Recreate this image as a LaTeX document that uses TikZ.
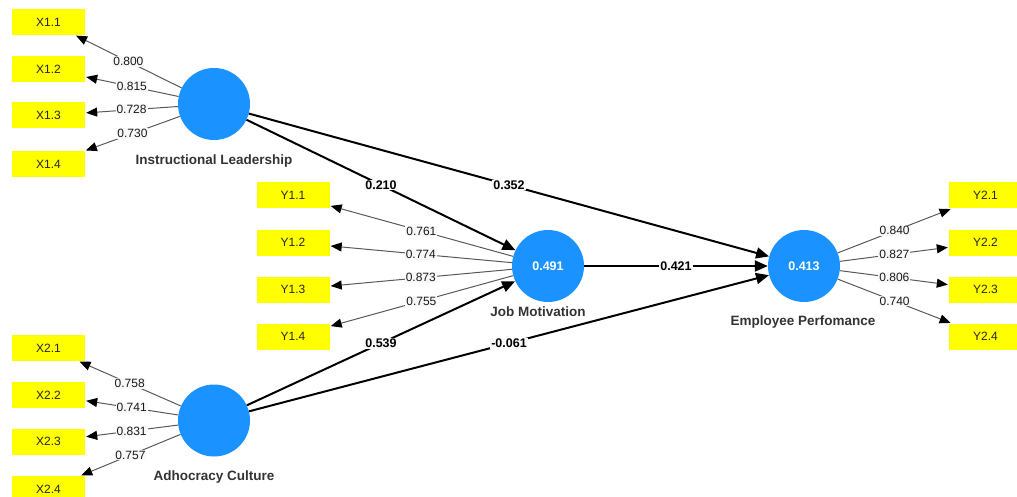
\documentclass[tikz,border=0pt]{standalone}
\usepackage{fontspec}
\setmainfont{Liberation Sans}
\usetikzlibrary{arrows.meta}
\definecolor{lvblue}{RGB}{26,146,255}
\definecolor{indyellow}{RGB}{255,255,0}
\definecolor{namegray}{RGB}{51,51,51}
\definecolor{lblbg}{RGB}{248,248,248}
\begin{document}
\begin{tikzpicture}[x=1pt,y=-1pt,
  every node/.style={font=\fontsize{12}{14}\selectfont},
  ind/.style={fill=indyellow,minimum width=73pt,minimum height=26pt,inner sep=0pt,text=black!85},
  lv/.style={circle,fill=lvblue,minimum size=72pt,inner sep=0pt,text=white,font=\fontsize{12.5}{14}\selectfont\bfseries},
  lvname/.style={text=namegray,font=\fontsize{13.5}{15}\selectfont\bfseries},
  load/.style={draw=black!65,line width=1pt,-{Triangle[length=11pt,width=9pt,color=black]},shorten >=1pt},
  pathc/.style={draw=black,line width=2pt,-{Triangle[length=13pt,width=11pt]}},
  lbl/.style={fill=lblbg,inner sep=1pt,text=black!90},
  plbl/.style={fill=lblbg,inner sep=1pt,text=black,font=\fontsize{12.5}{14}\selectfont\bfseries}]
\useasboundingbox (0,0) rectangle (1017,497);
% indicators
\node[ind] (X11) at (48.5,22) {X1.1};
\node[ind] (X12) at (48.5,69) {X1.2};
\node[ind] (X13) at (48.5,115.5) {X1.3};
\node[ind] (X14) at (48.5,164) {X1.4};
\node[ind] (X21) at (48.5,348) {X2.1};
\node[ind] (X22) at (48.5,395) {X2.2};
\node[ind] (X23) at (48.5,441.5) {X2.3};
\node[ind] (X24) at (48.5,489) {X2.4};
\node[ind] (Y11) at (293,195.5) {Y1.1};
\node[ind] (Y12) at (293,242.5) {Y1.2};
\node[ind] (Y13) at (293,289.5) {Y1.3};
\node[ind] (Y14) at (293,336.5) {Y1.4};
\node[ind] (Y21) at (985.5,195.5) {Y2.1};
\node[ind] (Y22) at (985.5,242.5) {Y2.2};
\node[ind] (Y23) at (985.5,289.5) {Y2.3};
\node[ind] (Y24) at (985.5,336.5) {Y2.4};
% latent variables
\node[lv] (IL) at (214,104) {};
\node[lv] (AC) at (214,420.5) {};
\node[lv] (JM) at (548,266) {0.491};
\node[lv] (EP) at (804,266) {0.413};
\node[lvname] (ILn) at (214,161) {Instructional Leadership};
\node[lvname] (ACn) at (214,477) {Adhocracy Culture};
\node[lvname] (JMn) at (538,312) {Job Motivation};
\node[lvname] (EPn) at (803,322) {Employee Perfomance};
% loadings
\draw[load] (IL) -- node[lbl] {0.800} (X11);
\draw[load] (IL) -- node[lbl] {0.815} (X12);
\draw[load] (IL) -- node[lbl] {0.728} (X13);
\draw[load] (IL) -- node[lbl] {0.730} (X14);
\draw[load] (AC) -- node[lbl] {0.758} (X21);
\draw[load] (AC) -- node[lbl] {0.741} (X22);
\draw[load] (AC) -- node[lbl] {0.831} (X23);
\draw[load] (AC) -- node[lbl] {0.757} (X24);
\draw[load] (JM) -- node[lbl] {0.761} (Y11);
\draw[load] (JM) -- node[lbl] {0.774} (Y12);
\draw[load] (JM) -- node[lbl] {0.873} (Y13);
\draw[load] (JM) -- node[lbl] {0.755} (Y14);
\draw[load] (EP) -- node[lbl] {0.840} (Y21);
\draw[load] (EP) -- node[lbl] {0.827} (Y22);
\draw[load] (EP) -- node[lbl] {0.806} (Y23);
\draw[load] (EP) -- node[lbl] {0.740} (Y24);
% structural paths
\draw[pathc] (IL) -- node[plbl] {0.210} (JM);
\draw[pathc] (IL) -- node[plbl] {0.352} (EP);
\draw[pathc] (AC) -- node[plbl] {0.539} (JM);
\draw[pathc] (AC) -- node[plbl] {-0.061} (EP);
\draw[pathc] (JM) -- node[plbl] {0.421} (EP);
\end{tikzpicture}
\end{document}
